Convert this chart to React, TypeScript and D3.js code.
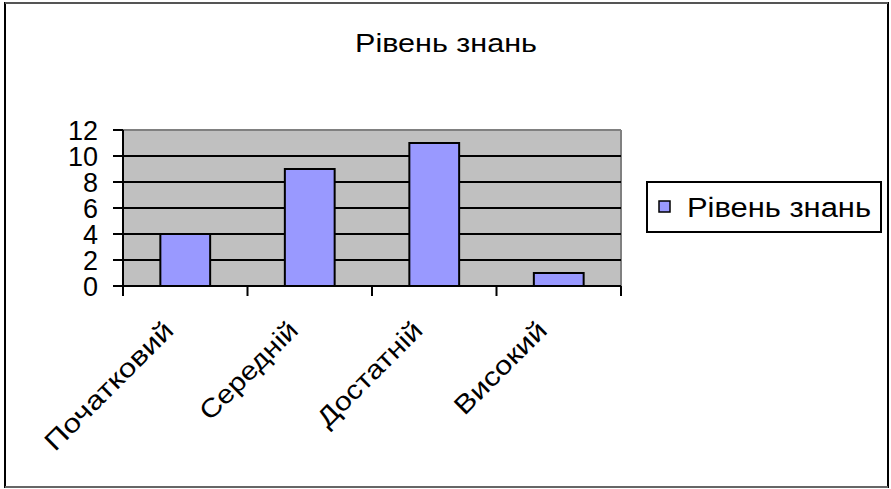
import React from "react";
import * as d3 from "d3";

const categories = ["Початковий", "Середній", "Достатній", "Високий"];
const values = [4, 9, 11, 1];
const yTicks = [0, 2, 4, 6, 8, 10, 12];
const seriesName = "Рівень знань";
const title = "Рівень знань";

const W = 891;
const H = 489;
const plot = { left: 123, right: 621, top: 130, bottom: 286 };
const FONT = "'Liberation Sans', Arial, sans-serif";
// rendered widths of the category labels in the reference (styling)
const labelLengths = [170, 127, 137, 119];

export default function App() {
  const x = d3
    .scaleBand<string>()
    .domain(categories)
    .range([plot.left, plot.right])
    .paddingInner(0.6)
    .paddingOuter(0.3);
  const xb = d3.scaleBand<string>().domain(categories).range([plot.left, plot.right]);
  const y = d3.scaleLinear().domain([0, 12]).range([plot.bottom, plot.top]);
  const tickXs = [plot.left, ...categories.map((c) => (xb(c) as number) + xb.bandwidth())];

  return (
    <svg
      width={W}
      height={H}
      style={{ position: "absolute", left: 0, top: 0, background: "#fff" }}
      fontFamily={FONT}
    >
      <rect x={0} y={0} width={W} height={H} fill="#fff" />
      {/* outer frame */}
      <rect x={5} y={3} width={883} height={484} fill="none" stroke="#000" strokeWidth={2} />
      <line x1={5} y1={487} x2={888} y2={487} stroke="#666" strokeWidth={2} />
      <line x1={5} y1={3} x2={888} y2={3} stroke="#555" strokeWidth={2} />

      {/* title */}
      <text
        x={355}
        y={52}
        fontSize={26}
        fill="#000"
        textLength={182}
        lengthAdjust="spacingAndGlyphs"
      >
        {title}
      </text>

      {/* plot background */}
      <rect
        x={plot.left}
        y={plot.top}
        width={plot.right - plot.left}
        height={plot.bottom - plot.top}
        fill="#C0C0C0"
      />
      <line x1={plot.left} y1={plot.top} x2={plot.right} y2={plot.top} stroke="#808080" strokeWidth={2} />
      <line x1={plot.right} y1={plot.top} x2={plot.right} y2={plot.bottom} stroke="#808080" strokeWidth={2} />

      {/* gridlines */}
      {yTicks
        .filter((t) => t > 0 && t < 12)
        .map((t) => (
          <line key={t} x1={plot.left} x2={plot.right} y1={y(t)} y2={y(t)} stroke="#000" strokeWidth={2} />
        ))}

      {/* bars */}
      {categories.map((c, i) => (
        <rect
          key={c}
          x={x(c)}
          y={y(values[i])}
          width={x.bandwidth()}
          height={y(0) - y(values[i])}
          fill="#9999FF"
          stroke="#000"
          strokeWidth={2}
        />
      ))}

      {/* y axis */}
      <line x1={plot.left} y1={plot.top} x2={plot.left} y2={plot.bottom} stroke="#000" strokeWidth={2} />
      {yTicks.map((t) => (
        <g key={t}>
          <line x1={plot.left - 10} x2={plot.left} y1={y(t)} y2={y(t)} stroke="#000" strokeWidth={2} />
          <text x={98} y={y(t)} dy="0.36em" textAnchor="end" fontSize={27} fill="#000">
            {t}
          </text>
        </g>
      ))}

      {/* x axis */}
      <line x1={plot.left} y1={plot.bottom} x2={plot.right} y2={plot.bottom} stroke="#000" strokeWidth={2} />
      {tickXs.map((tx, i) => (
        <line key={i} x1={tx} x2={tx} y1={plot.bottom} y2={plot.bottom + 10} stroke="#000" strokeWidth={2} />
      ))}
      {categories.map((c, i) => {
        const cx = (xb(c) as number) + xb.bandwidth() / 2 - 10;
        const cy = 332;
        return (
          <text
            key={c}
            x={cx}
            y={cy}
            transform={`rotate(-45 ${cx} ${cy})`}
            textAnchor="end"
            fontSize={26}
            fill="#000"
            textLength={labelLengths[i]}
            lengthAdjust="spacingAndGlyphs"
          >
            {c}
          </text>
        );
      })}

      {/* legend */}
      <rect x={647} y={182} width={234} height={50} fill="#fff" stroke="#000" strokeWidth={2} />
      <rect x={659} y={201} width={11} height={11} fill="#9999FF" stroke="#000" strokeWidth={1.5} />
      <text
        x={687}
        y={217}
        fontSize={27}
        fill="#000"
        textLength={184}
        lengthAdjust="spacingAndGlyphs"
      >
        {seriesName}
      </text>
    </svg>
  );
}
